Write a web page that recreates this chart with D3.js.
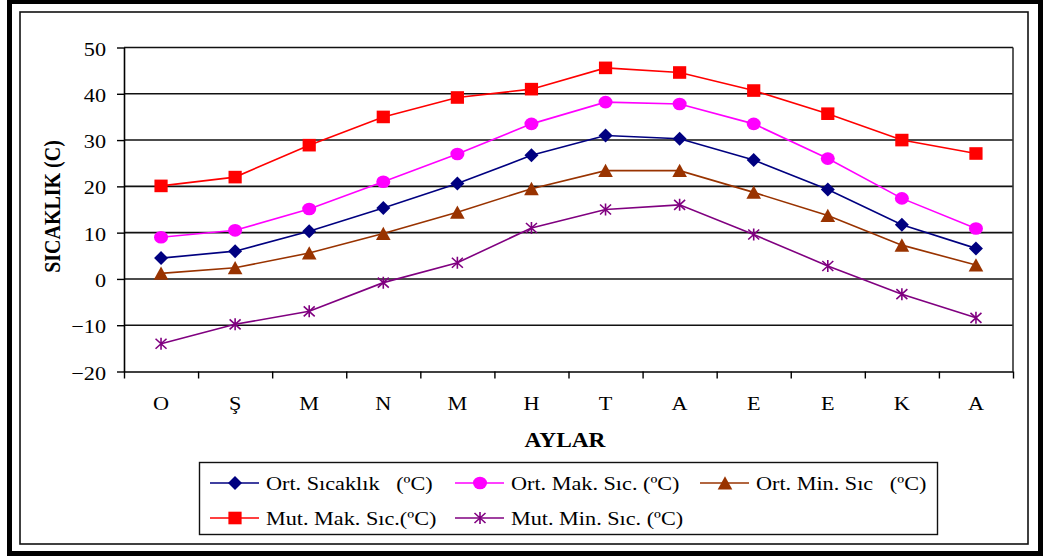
<!DOCTYPE html>
<html>
<head>
<meta charset="utf-8">
<script src="https://cdn.jsdelivr.net/npm/d3@7"></script>
<style>
  body { margin: 0; background: #fff; }
  svg { display: block; }
  text { white-space: pre; }
</style>
</head>
<body>
<div id="chart"></div>
<script>
// data
const months = ["O", "Ş", "M", "N", "M", "H", "T", "A", "E", "E", "K", "A"];
const ortSicaklik = [4.5, 6, 10.3, 15.3, 20.6, 26.7, 31, 30.3, 25.7, 19.3, 11.7, 6.6];
const ortMak = [9, 10.5, 15.1, 21, 27, 33.5, 38.2, 37.8, 33.5, 26, 17.4, 10.9];
const ortMin = [1.2, 2.4, 5.6, 9.8, 14.4, 19.5, 23.4, 23.4, 18.7, 13.7, 7.3, 3];
const mutMak = [20.1, 22, 28.9, 35, 39.2, 41, 45.6, 44.6, 40.7, 35.7, 30, 27.1];
const mutMin = [-14, -9.8, -7, -0.8, 3.5, 11, 15, 16, 9.6, 2.8, -3.3, -8.4];
const yTicks = [-20, -10, 0, 10, 20, 30, 40, 50];

const seriesNames = ["Ort. Sıcaklık   (ºC)", "Ort. Mak. Sıc. (ºC)", "Ort. Min. Sıc   (ºC)",
                     "Mut. Mak. Sıc.(ºC)", "Mut. Min. Sıc. (ºC)"];

const W = 1043, H = 557, SX = 1.17; // text in the original is stretched wide
const FONT = "'Liberation Serif', 'Times New Roman', serif";
const plot = {left: 124, right: 1013, top: 47.5, bottom: 371.5};

const series = [
  {name: seriesNames[0], values: ortSicaklik, color: "#000080", marker: "diamond"},
  {name: seriesNames[1], values: ortMak, color: "#ff00ff", marker: "circle"},
  {name: seriesNames[2], values: ortMin, color: "#993300", marker: "triangle"},
  {name: seriesNames[3], values: mutMak, color: "#ff0000", marker: "square"},
  {name: seriesNames[4], values: mutMin, color: "#800080", marker: "star"}
];

const svg = d3.select("#chart").append("svg")
  .attr("width", W).attr("height", H)
  .attr("font-family", FONT);

// frames
svg.append("rect").attr("x", 9.5).attr("y", 1.5).attr("width", 1031).attr("height", 552)
  .attr("fill", "#fff").attr("stroke", "#000").attr("stroke-width", 5);
svg.append("rect").attr("x", 20).attr("y", 12).attr("width", 1008).attr("height", 532)
  .attr("fill", "none").attr("stroke", "#111").attr("stroke-width", 1.6);

const x = d3.scaleBand().domain(d3.range(months.length)).range([plot.left, plot.right]);
const xEdge = d3.scaleLinear().domain([0, months.length]).range([plot.left, plot.right]);
const y = d3.scaleLinear().domain([-20, 50]).range([plot.bottom, plot.top]);

// gridlines
svg.append("g")
  .selectAll("line").data(yTicks.filter(t => t > -20)).join("line")
  .attr("x1", plot.left).attr("x2", plot.right)
  .attr("y1", d => y(d)).attr("y2", d => y(d))
  .attr("stroke", "#111").attr("stroke-width", 1.6);

svg.append("line")
  .attr("x1", plot.right).attr("x2", plot.right)
  .attr("y1", plot.top).attr("y2", plot.bottom)
  .attr("stroke", "#333").attr("stroke-width", 1.6);

// y axis
const yAxis = svg.append("g")
  .attr("transform", `translate(${plot.left},0)`)
  .call(d3.axisLeft(y).tickValues(yTicks).tickSize(7).tickSizeOuter(0))
  .attr("font-family", FONT);
yAxis.select(".domain").attr("stroke", "#000").attr("stroke-width", 1.6);
yAxis.selectAll(".tick line").attr("stroke", "#000").attr("stroke-width", 1.4);
yAxis.selectAll("text")
  .attr("x", -18 / SX).attr("dy", "0.4em")
  .attr("transform", `scale(${SX},1)`)
  .style("font-size", "19px").style("font-family", FONT);

// x axis: boundary ticks
const xTicks = svg.append("g")
  .attr("transform", `translate(0,${plot.bottom})`)
  .call(d3.axisBottom(xEdge).tickValues(d3.range(months.length + 1)).tickSize(7)
    .tickSizeOuter(0).tickFormat(""));
xTicks.select(".domain").attr("stroke", "#000").attr("stroke-width", 1.6);
xTicks.selectAll(".tick line").attr("stroke", "#000").attr("stroke-width", 1.4);

// x axis: month labels
const xLabels = svg.append("g")
  .attr("transform", `translate(0,${plot.bottom})`)
  .call(d3.axisBottom(x).tickSize(0).tickFormat(i => months[i]))
  .attr("font-family", FONT);
xLabels.select(".domain").remove();
xLabels.selectAll(".tick text")
  .attr("y", 0).attr("dy", 0)
  .attr("transform", `translate(0,38.5) scale(${SX},1)`)
  .style("font-size", "19px").style("font-family", FONT);

// axis titles
svg.append("text")
  .attr("transform", `translate(565,447) scale(${SX},1)`)
  .attr("text-anchor", "middle")
  .style("font-family", FONT)
  .style("font-size", "20px").style("font-weight", "bold")
  .text("AYLAR");
svg.append("text")
  .attr("transform", `translate(60,206.5) scale(${SX},1) rotate(-90)`)
  .attr("text-anchor", "middle")
  .style("font-family", FONT)
  .style("font-size", "20px").style("font-weight", "bold")
  .text("SICAKLIK (C)");

// markers
function drawMarker(g, type, color) {
  if (type === "diamond") {
    g.append("path").attr("d", "M0,-7L7,0L0,7L-7,0Z").attr("fill", color);
  } else if (type === "circle") {
    g.append("ellipse").attr("rx", 7).attr("ry", 6.3).attr("fill", color);
  } else if (type === "triangle") {
    g.append("path").attr("d", "M0,-6.8L7.3,6.5L-7.3,6.5Z").attr("fill", color);
  } else if (type === "square") {
    g.append("rect").attr("x", -6.6).attr("y", -6.3).attr("width", 13.2).attr("height", 12.6)
      .attr("fill", color);
  } else if (type === "star") {
    g.append("path")
      .attr("d", "M0,-6V6M-5.5,-5L5.5,5M-5.5,5L5.5,-5")
      .attr("stroke", color).attr("stroke-width", 1.6).attr("fill", "none");
  }
}

const line = d3.line()
  .x((d, i) => x(i) + x.bandwidth() / 2)
  .y(d => y(d));

// draw series in back-to-front order similar to the original
const order = [4, 2, 0, 1, 3];
order.forEach(k => {
  const s = series[k];
  const g = svg.append("g");
  g.append("path").datum(s.values)
    .attr("d", line)
    .attr("fill", "none").attr("stroke", s.color).attr("stroke-width", 1.6);
  s.values.forEach((v, i) => {
    const m = g.append("g")
      .attr("transform", `translate(${x(i) + x.bandwidth() / 2},${y(v)})`);
    drawMarker(m, s.marker, s.color);
  });
});

// legend
svg.append("rect").attr("x", 199.5).attr("y", 462.5).attr("width", 738).attr("height", 72)
  .attr("fill", "#fff").attr("stroke", "#111").attr("stroke-width", 1.4);

const legendCols = [210, 455, 700];
const legendRows = [483, 518];
series.forEach((s, k) => {
  const lx = legendCols[k % 3], ly = legendRows[Math.floor(k / 3)];
  const g = svg.append("g").attr("transform", `translate(${lx},${ly})`);
  g.append("line").attr("x1", 0).attr("x2", 49).attr("y1", 0).attr("y2", 0)
    .attr("stroke", s.color).attr("stroke-width", 1.6);
  const m = g.append("g").attr("transform", "translate(25,0)");
  drawMarker(m, s.marker, s.color);
  g.append("text")
    .attr("transform", `translate(56,6.5) scale(${SX},1)`)
    .style("font-family", FONT)
    .style("font-size", "19px")
    .text(s.name);
});
</script>
</body>
</html>
